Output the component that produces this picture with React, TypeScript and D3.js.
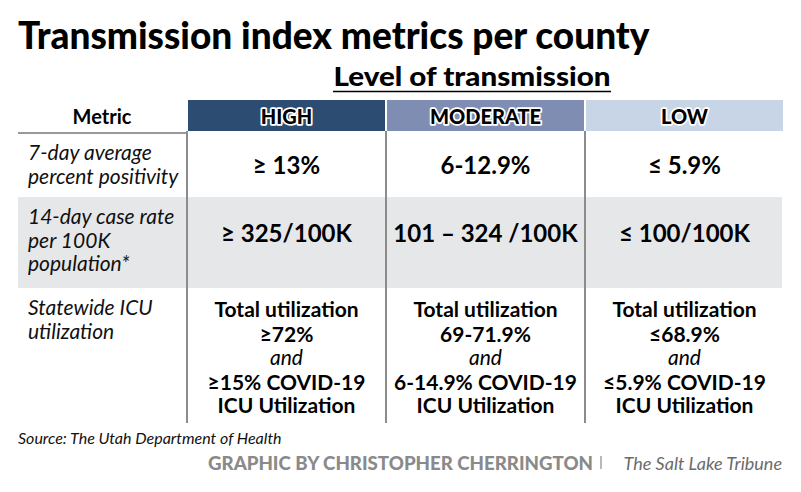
import React from 'react';
import * as d3 from 'd3';

// Table content
const LEVELS = ['HIGH', 'MODERATE', 'LOW'];
const LEVEL_COLORS = ['#2c4c72', '#7f8db3', '#c8d5e6'];

const METRIC_LABELS = [
  ['7-day average', 'percent positivity'],
  ['14-day case rate', 'per 100K', 'population*'],
  ['Statewide ICU', 'utilization'],
];

const POSITIVITY = ['≥ 13%', '6-12.9%', '≤ 5.9%'];
const CASE_RATE = ['≥ 325/100K', '101 – 324 /100K', '≤ 100/100K'];
const ICU_TOTAL = ['≥72%', '69-71.9%', '≤68.9%'];
const ICU_COVID = ['≥15% COVID-19', '6-14.9% COVID-19', '≤5.9% COVID-19'];

const ROW_HEIGHTS = [64, 91, 135];

const FONT = 'Lato, "Open Sans", sans-serif';

export default function App() {
  const width = 801;
  const height = 492;

  const left = 18;
  const right = 782;
  const metricRight = 186;
  const headerTop = 100;
  const headerBottom = 131;
  const tableTop = 133;

  // columns for the three levels
  const x = d3.scaleBand<string>()
    .domain(LEVELS)
    .range([metricRight + 2, right + 1])
    .paddingInner(0.01);

  // rows, stacked from the row heights
  const rowTops = d3.cumsum([0, ...ROW_HEIGHTS]).map((d) => tableTop + d);
  const tableBottom = rowTops[ROW_HEIGHTS.length];

  const cx = (lvl: string) => (x(lvl) ?? 0) + x.bandwidth() / 2;

  return (
    <svg
      width={width}
      height={height}
      style={{ position: 'absolute', left: 0, top: 0, background: '#fff' }}
      fontFamily={FONT}
    >
      <rect width={width} height={height} fill="#fff" />

      {/* Title */}
      <text x={18} y={49} fontSize={37} fontWeight={900} fill="#000">
        Transmission index metrics per county
      </text>

      <text
        x={472}
        y={86}
        fontSize={26}
        fontWeight={900}
        fill="#000"
        textAnchor="middle"
        textLength={277}
        lengthAdjust="spacingAndGlyphs"
      >
        Level of transmission
      </text>
      <line x1={333} x2={611} y1={91.5} y2={91.5} stroke="#000" strokeWidth={1.5} />

      {/* Header */}
      <text x={(left + metricRight) / 2} y={124} fontSize={20} fontWeight={700} textAnchor="middle">
        Metric
      </text>
      {LEVELS.map((lvl, i) => (
        <g key={lvl}>
          <rect
            x={x(lvl)}
            y={headerTop}
            width={x.bandwidth()}
            height={headerBottom - headerTop}
            fill={LEVEL_COLORS[i]}
          />
          <text
            x={cx(lvl)}
            y={124}
            fontSize={20}
            fontWeight={900}
            textAnchor="middle"
            fill="#000"
            stroke="#fff"
            strokeWidth={3.5}
            paintOrder="stroke"
            strokeLinejoin="round"
          >
            {lvl}
          </text>
        </g>
      ))}

      {/* shaded middle row */}
      <rect
        x={left}
        y={rowTops[1]}
        width={right - left}
        height={ROW_HEIGHTS[1]}
        fill="#e6e7e9"
      />

      {/* rule under metric header */}
      <line x1={left} x2={metricRight} y1={tableTop} y2={tableTop} stroke="#999" strokeWidth={2} />

      {/* column dividers */}
      {[metricRight + 1, ...LEVELS.slice(1).map((l) => (x(l) ?? 0) - 1)].map((vx, i) => (
        <line key={i} x1={vx} x2={vx} y1={headerBottom} y2={tableBottom} stroke="#8c8c8c" strokeWidth={2} />
      ))}

      {/* metric labels */}
      {METRIC_LABELS.map((lines, r) => (
        <text key={r} fontSize={21} fontStyle="italic" fontWeight={400} fill="#111">
          {lines.map((ln, j) => (
            <tspan key={j} x={28} y={rowTops[r] + 27 + j * 23.5}>
              {ln}
            </tspan>
          ))}
        </text>
      ))}

      {/* row 1: positivity */}
      {LEVELS.map((lvl, i) => (
        <text key={lvl} x={cx(lvl)} y={rowTops[0] + 41} fontSize={24} fontWeight={700} textAnchor="middle">
          {POSITIVITY[i]}
        </text>
      ))}

      {/* row 2: case rate */}
      {LEVELS.map((lvl, i) => (
        <text key={lvl} x={cx(lvl)} y={rowTops[1] + 45} fontSize={24} fontWeight={700} textAnchor="middle">
          {CASE_RATE[i]}
        </text>
      ))}

      {/* row 3: ICU */}
      {LEVELS.map((lvl, i) => (
        <text key={lvl} textAnchor="middle" fontSize={21} fontWeight={700}>
          <tspan x={cx(lvl)} y={rowTops[2] + 29}>Total utilization</tspan>
          <tspan x={cx(lvl)} y={rowTops[2] + 54}>{ICU_TOTAL[i]}</tspan>
          <tspan x={cx(lvl)} y={rowTops[2] + 77} fontStyle="italic" fontWeight={400}>and</tspan>
          <tspan x={cx(lvl)} y={rowTops[2] + 102}>{ICU_COVID[i]}</tspan>
          <tspan x={cx(lvl)} y={rowTops[2] + 125}>ICU Utilization</tspan>
        </text>
      ))}

      {/* Source + credit */}
      <text x={18} y={444} fontSize={16} fontStyle="italic" fill="#111">
        Source: The Utah Department of Health
      </text>
      <text
        x={208}
        y={470}
        fontSize={18.5}
        fontWeight={900}
        fill="#8a8a8a"
        textLength={385}
        lengthAdjust="spacingAndGlyphs"
      >
        GRAPHIC BY CHRISTOPHER CHERRINGTON
      </text>
      <line x1={601} x2={601} y1={456} y2={469} stroke="#8a8a8a" strokeWidth={1.2} />
      <text x={782} y={470} fontSize={18} fontStyle="italic" fill="#6b6b6b" textAnchor="end">
        The Salt Lake Tribune
      </text>
    </svg>
  );
}
